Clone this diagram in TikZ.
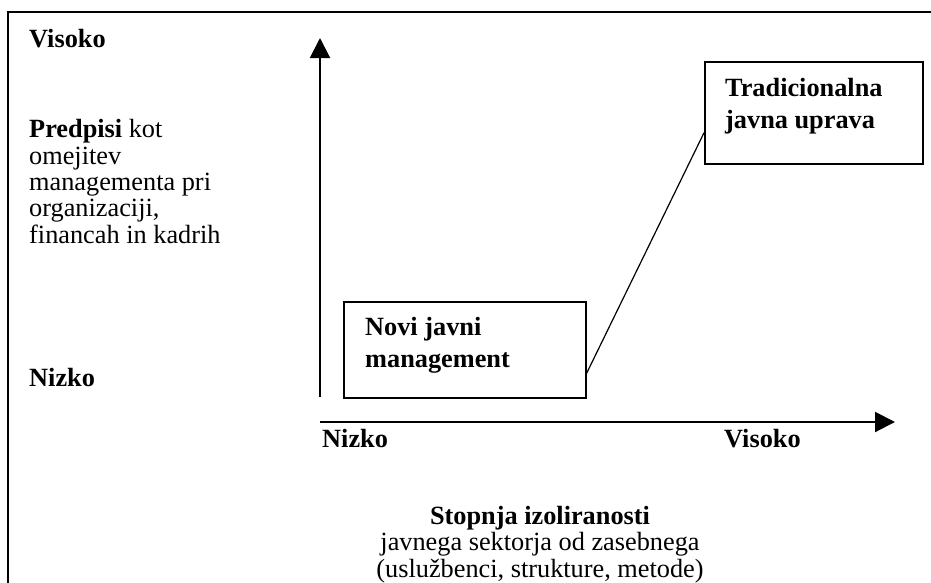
\documentclass[tikz,border=0pt]{standalone}
\usepackage{fontspec}
\setmainfont{Liberation Serif}
\usetikzlibrary{arrows.meta}
\tikzset{
  txt/.style={inner sep=0pt, font=\fontsize{26.3}{26.3}\selectfont},
  boxtxt/.style={inner sep=0pt, align=left, font=\fontsize{26.3}{31.5}\selectfont\bfseries},
  frame/.style={line width=1.4pt},
  axis/.style={line width=2pt, -{Triangle[length=20pt,width=20pt]}},
  box/.style={draw, line width=1.5pt, inner sep=0pt, anchor=north west},
  link/.style={line width=1.2pt}
}
\begin{document}
\begin{tikzpicture}[x=1pt,y=-1pt]
\useasboundingbox (0,0) rectangle (931,582);
% frame
\coordinate (fbl) at (8,583);
\coordinate (ftl) at (8,12);
\coordinate (ftr) at (932,12);
\draw[frame] (fbl) -- (ftl) -- (ftr);
% axes
\coordinate (o) at (320,422);
\coordinate (ybot) at (320,397);
\coordinate (ytop) at (320,38);
\coordinate (xtip) at (895,422);
\draw[axis] (ybot) -- (ytop);
\draw[axis] (o) -- (xtip);
% left labels (base anchor = baseline of last line)
\node[txt, anchor=base west] (yhigh) at (29,47) {\textbf{Visoko}};
\node[txt, anchor=base west, align=left] (ylab) at (29,243)
  {\textbf{Predpisi} kot\\omejitev\\managementa pri\\organizaciji,\\financah in kadrih};
\node[txt, anchor=base west] (ylow) at (29,386) {\textbf{Nizko}};
% x labels
\node[txt, anchor=base west] (xlow) at (322,447) {\textbf{Nizko}};
\node[txt, anchor=base west] (xhigh) at (724,447) {\textbf{Visoko}};
\node[txt, anchor=base, align=center] (xlab) at (540,577)
  {\textbf{Stopnja izoliranosti}\\javnega sektorja od zasebnega\\(uslužbenci, strukture, metode)};
% boxes
\node[box, minimum width=242pt, minimum height=96pt] (novi) at (343,301) {};
\node[boxtxt, anchor=base west] (novit) at (365,367) {Novi javni\\management};
\node[box, minimum width=218pt, minimum height=102pt] (trad) at (704,61) {};
\node[boxtxt, anchor=base west] (tradt) at (725,128) {Tradicionalna\\javna uprava};
% connector
\draw[link] ([yshift=25pt]novi.south east) -- ([yshift=-20pt]trad.west);
\end{tikzpicture}
\end{document}
